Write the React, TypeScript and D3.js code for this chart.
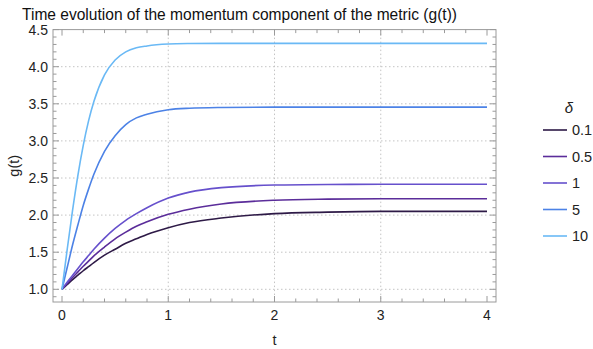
import React, { useRef, useEffect } from 'react';
import * as d3 from 'd3';

const tValues = [0, 0.05, 0.1, 0.15, 0.2, 0.25, 0.3, 0.4, 0.5, 0.6, 0.7, 0.8, 1.0, 1.2, 1.5, 2.0, 2.5, 3.0, 4.0];

const deltaLabels = ['0.1', '0.5', '1', '5', '10'];
const colors = ['#2e1a47', '#5b2d9a', '#6650cc', '#4c82e6', '#6ab9f5'];

const g01 = [1, 1.065, 1.13, 1.19, 1.25, 1.305, 1.36, 1.46, 1.54, 1.62, 1.68, 1.74, 1.83, 1.9, 1.96, 2.02, 2.04, 2.05, 2.05];
const g05 = [1, 1.08, 1.16, 1.235, 1.31, 1.38, 1.45, 1.57, 1.68, 1.77, 1.85, 1.91, 2.01, 2.08, 2.15, 2.2, 2.215, 2.22, 2.22];
const g1 = [1, 1.1, 1.19, 1.28, 1.37, 1.455, 1.54, 1.69, 1.82, 1.93, 2.02, 2.1, 2.23, 2.31, 2.37, 2.405, 2.413, 2.415, 2.415];
const g5 = [1, 1.3, 1.6, 1.87, 2.13, 2.35, 2.55, 2.86, 3.07, 3.22, 3.31, 3.36, 3.42, 3.44, 3.45, 3.455, 3.455, 3.455, 3.455];
const g10 = [1, 1.55, 2.07, 2.54, 2.94, 3.27, 3.53, 3.89, 4.09, 4.2, 4.255, 4.28, 4.305, 4.312, 4.315, 4.315, 4.315, 4.315, 4.315];

const seriesList = [g01, g05, g1, g5, g10];

const xMajor = [0, 1, 2, 3, 4];
const yMajor = [1.0, 1.5, 2.0, 2.5, 3.0, 3.5, 4.0, 4.5];

const title = 'Time evolution of the momentum component of the metric (g(t))';

const App = () => {
  const svgRef = useRef(null);
  const width = 593;
  const height = 349;

  useEffect(() => {
    const svg = d3.select(svgRef.current);
    svg.selectAll('*').remove();

    const left = 53, right = 496, top = 29.6, bottom = 302;
    const font = '"Liberation Sans", Arial, sans-serif';

    const x = d3.scaleLinear().domain([0, 4]).range([62, 487]);
    const y = d3.scaleLinear().domain([1, 4]).range([289.3, 66.7]);

    // grid (dotted)
    const grid = svg.append('g').attr('stroke', '#c4c4c4').attr('stroke-width', 1).attr('stroke-dasharray', '1.5,2.5');
    [1, 2, 3].forEach((t) => {
      grid.append('line').attr('x1', x(t)).attr('x2', x(t)).attr('y1', top).attr('y2', bottom);
    });
    yMajor.filter((v) => v < 4.5).forEach((v) => {
      grid.append('line').attr('x1', left).attr('x2', right).attr('y1', y(v)).attr('y2', y(v));
    });

    // curves
    const line = d3
      .line()
      .x((d, i) => x(tValues[i]))
      .y((d) => y(d))
      .curve(d3.curveMonotoneX);

    seriesList.forEach((s, i) => {
      svg.append('path')
        .datum(s)
        .attr('fill', 'none')
        .attr('stroke', colors[i])
        .attr('stroke-width', 1.6)
        .attr('d', line);
    });

    // frame
    svg.append('rect')
      .attr('x', left).attr('y', top)
      .attr('width', right - left).attr('height', bottom - top)
      .attr('fill', 'none').attr('stroke', '#9a9a9a').attr('stroke-width', 1);

    // ticks on all four sides
    const ticks = svg.append('g').attr('stroke', '#9a9a9a').attr('stroke-width', 1);
    const xMinor = d3.range(0, 4.01, 0.2).filter((t) => Math.abs(t - Math.round(t)) > 0.01);
    const yMinor = d3.range(0.9, 4.51, 0.1).filter((v) => Math.abs(v * 2 - Math.round(v * 2)) > 0.01);

    xMajor.forEach((t) => {
      ticks.append('line').attr('x1', x(t)).attr('x2', x(t)).attr('y1', bottom).attr('y2', bottom - 6);
      ticks.append('line').attr('x1', x(t)).attr('x2', x(t)).attr('y1', top).attr('y2', top + 6);
    });
    xMinor.forEach((t) => {
      ticks.append('line').attr('x1', x(t)).attr('x2', x(t)).attr('y1', bottom).attr('y2', bottom - 3.5);
      ticks.append('line').attr('x1', x(t)).attr('x2', x(t)).attr('y1', top).attr('y2', top + 3.5);
    });
    yMajor.forEach((v) => {
      ticks.append('line').attr('x1', left).attr('x2', left + 6).attr('y1', y(v)).attr('y2', y(v));
      ticks.append('line').attr('x1', right).attr('x2', right - 6).attr('y1', y(v)).attr('y2', y(v));
    });
    yMinor.forEach((v) => {
      ticks.append('line').attr('x1', left).attr('x2', left + 3.5).attr('y1', y(v)).attr('y2', y(v));
      ticks.append('line').attr('x1', right).attr('x2', right - 3.5).attr('y1', y(v)).attr('y2', y(v));
    });

    // tick labels
    const labels = svg.append('g').attr('font-family', font).attr('font-size', 14).attr('fill', '#222');
    xMajor.forEach((t) => {
      labels.append('text').attr('x', x(t)).attr('y', 320).attr('text-anchor', 'middle').text(d3.format('d')(t));
    });
    yMajor.forEach((v) => {
      labels.append('text').attr('x', 48).attr('y', y(v) + 5).attr('text-anchor', 'end').text(d3.format('.1f')(v));
    });

    // axis labels
    svg.append('text')
      .attr('x', x(2)).attr('y', 345)
      .attr('text-anchor', 'middle')
      .attr('font-family', font).attr('font-size', 14.5).attr('fill', '#222')
      .text('t');
    svg.append('text')
      .attr('transform', `translate(19,${(top + bottom) / 2}) rotate(-90)`)
      .attr('text-anchor', 'middle')
      .attr('font-family', font).attr('font-size', 14.5).attr('fill', '#222')
      .text('g(t)');

    // title
    svg.append('text')
      .attr('x', 22).attr('y', 19.5)
      .attr('font-family', font).attr('font-size', 16.5).attr('fill', '#111')
      .attr('textLength', 435).attr('lengthAdjust', 'spacingAndGlyphs')
      .text(title);

    // legend
    const lg = svg.append('g').attr('font-family', font);
    lg.append('text')
      .attr('x', 569).attr('y', 113)
      .attr('text-anchor', 'middle')
      .attr('font-size', 15).attr('font-style', 'italic').attr('fill', '#222')
      .text('δ');
    deltaLabels.forEach((lab, i) => {
      const ry = 130 + i * 26.5;
      lg.append('line')
        .attr('x1', 543).attr('x2', 567).attr('y1', ry).attr('y2', ry)
        .attr('stroke', colors[i]).attr('stroke-width', 1.6);
      lg.append('text')
        .attr('x', 572).attr('y', ry + 5)
        .attr('font-size', 14.5).attr('fill', '#222')
        .text(lab);
    });
  }, []);

  return (
    <svg
      ref={svgRef}
      width={width}
      height={height}
      style={{ position: 'absolute', left: 0, top: 0, background: '#fff' }}
    ></svg>
  );
};

export default App;
